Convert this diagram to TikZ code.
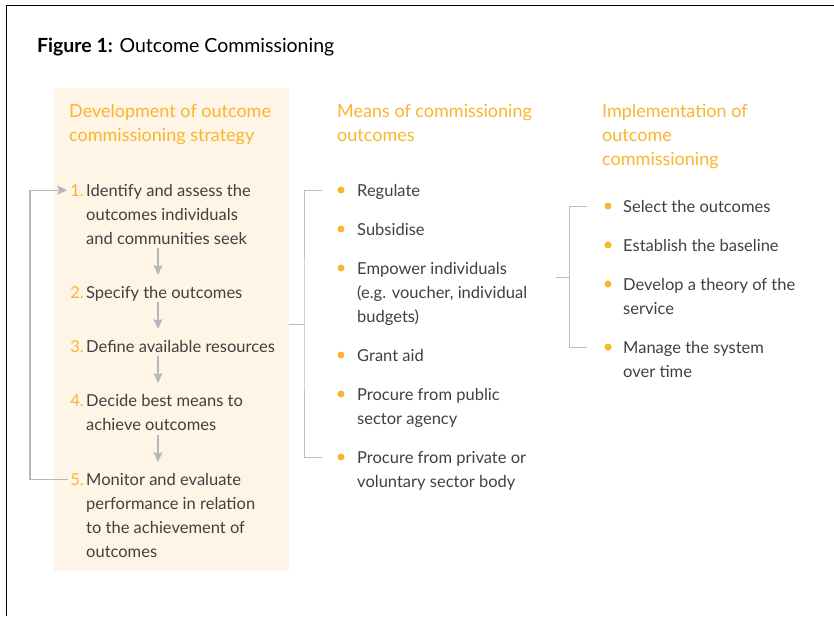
\documentclass[tikz,border=0pt]{standalone}
\usepackage{fontspec}
\setmainfont{Lato}
\usetikzlibrary{arrows.meta,calc}
\definecolor{orng}{HTML}{F9B52E}
\definecolor{beige}{HTML}{FEF5E6}
\definecolor{txt}{HTML}{404040}
\definecolor{lgray}{HTML}{BCBCBC}
\definecolor{agray}{HTML}{B4B8BC}
\tikzset{
  body/.style={anchor=base west, inner sep=0pt, align=left, text=txt, font=\fontsize{16.5}{24}\selectfont},
  head/.style={anchor=base west, inner sep=0pt, align=left, text=orng, font=\fontsize{18}{24}\selectfont},
  num/.style={anchor=base east, inner sep=0pt, text=orng, font=\fontsize{16.5}{24}\selectfont},
  bul/.style={circle, fill=orng, inner sep=0pt, minimum size=7pt},
  brk/.style={draw=lgray, line width=1pt},
  arr/.style={draw=agray, line width=1.2pt, -{Stealth[length=10pt,width=9pt,inset=2pt]}},
}
\begin{document}
\begin{tikzpicture}[x=1pt,y=-1pt]
\useasboundingbox (0,0) rectangle (834,616);
\draw[black, line width=1.5pt] (6.5,616) -- (6.5,5.5) -- (834,5.5);
\node[anchor=base west, inner sep=0pt, text=black, font=\fontsize{19.5}{24}\selectfont] (title) at (37,52) {\textbf{Figure 1:} Outcome Commissioning};
\node[fill=beige, anchor=north west, minimum width=235pt, minimum height=483pt, inner sep=0pt] (box) at (54,88) {};
% headings (anchor = baseline of last line)
\node[head] (h1) at (69,141) {Development of outcome\\commissioning strategy};
\node[head] (h2) at (337,141) {Means of commissioning\\outcomes};
\node[head] (h3) at (602,165) {Implementation of\\outcome\\commissioning};
% steps
\node[num] (n1) at (84,196) {1.};
\node[body] (s1) at (86,244) {Identify and assess the\\outcomes individuals\\and communities seek};
\node[num] (n2) at (84,298) {2.};
\node[body] (s2) at (86,298) {Specify the outcomes};
\node[num] (n3) at (84,352) {3.};
\node[body] (s3) at (86,352) {Define available resources};
\node[num] (n4) at (84,406) {4.};
\node[body] (s4) at (86,430) {Decide best means to\\achieve outcomes};
\node[num] (n5) at (84,485) {5.};
\node[body] (s5) at (86,557) {Monitor and evaluate\\performance in relation\\to the achievement of\\outcomes};
\coordinate (ax) at (158,0);
\draw[arr] ($(s1.base -| ax)+(0,4)$) -- ($(n2.base -| ax)+(0,-23)$);
\draw[arr] ($(s2.base -| ax)+(0,4)$) -- ($(n3.base -| ax)+(0,-23)$);
\draw[arr] ($(s3.base -| ax)+(0,4)$) -- ($(n4.base -| ax)+(0,-23)$);
\draw[arr] ($(s4.base -| ax)+(0,5)$) -- ($(n5.base -| ax)+(0,-23)$);
\coordinate (fb) at (32,0);
\draw[arr] ([xshift=-2pt]n5.west) -- ([xshift=-2pt]n5.west -| fb) -- ([xshift=-2pt]n1.west -| fb) -- ([xshift=-3pt]n1.west);
% means
\node[bul] (mb1) at (341,190) {};
\node[body] (m1) at (357,196) {Regulate};
\node[bul] (mb2) at (341,229) {};
\node[body] (m2) at (357,235) {Subsidise};
\node[bul] (mb3) at (341,268) {};
\node[body] (m3) at (357,322) {Empower individuals\\(e.g. voucher, individual\\budgets)};
\node[bul] (mb4) at (341,355) {};
\node[body] (m4) at (357,361) {Grant aid};
\node[bul] (mb5) at (341,394) {};
\node[body] (m5) at (357,424) {Procure from public\\sector agency};
\node[bul] (mb6) at (341,457) {};
\node[body] (m6) at (357,487) {Procure from private or\\voluntary sector body};
\coordinate (b1m) at (304,324);
\draw[brk] (box.east |- b1m) -- (b1m);
\draw[brk] ([xshift=-19pt]mb1.center) -| (b1m) |- ([xshift=-19pt]mb6.center);
% implementation
\node[bul] (ib1) at (608,206) {};
\node[body] (i1) at (623,212) {Select the outcomes};
\node[bul] (ib2) at (608,245) {};
\node[body] (i2) at (623,251) {Establish the baseline};
\node[bul] (ib3) at (608,284) {};
\node[body] (i3) at (623,314) {Develop a theory of the\\service};
\node[bul] (ib4) at (608,347) {};
\node[body] (i4) at (623,377) {Manage the system\\over time};
\coordinate (b2l) at (556,277);
\coordinate (b2m) at (569,277);
\draw[brk] (b2l) -- (b2m);
\draw[brk] ([xshift=-21pt]ib1.center) -| (b2m) |- ([xshift=-21pt]ib4.center);
\end{tikzpicture}
\end{document}
